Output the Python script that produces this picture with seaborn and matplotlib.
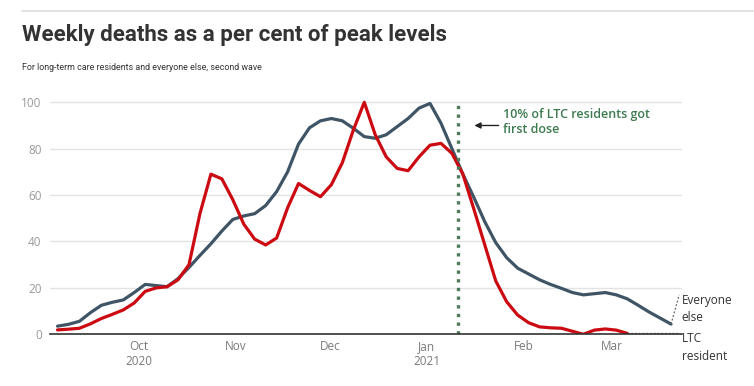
import pandas as pd
import numpy as np
import seaborn as sns
import matplotlib.pyplot as plt
import matplotlib.dates as mdates
from matplotlib.lines import Line2D
from matplotlib import font_manager

# readings taken every half week (3.5 days) from 5 Sep 2020
start = "2020-09-05"

everyone_else = [3.5, 4.3, 5.6, 9.3, 12.5, 13.8, 14.8, 18.0, 21.5, 21.0,
                 20.5, 24.0, 28.8, 34.0, 39.0, 44.5, 49.5, 51.0, 52.0, 55.5,
                 61.5, 70.0, 82.0, 89.0, 92.0, 93.0, 92.0, 88.8, 85.2, 84.5,
                 86.0, 89.5, 93.0, 97.5, 99.5, 91.0, 80.0, 69.0, 59.0, 48.5,
                 39.5, 33.0, 28.5, 26.0, 23.5, 21.5, 19.8, 18.0, 17.0, 17.5,
                 18.0, 17.0, 15.3, 12.5, 9.6, 7.0, 4.4]

ltc_resident = [1.9, 2.2, 2.6, 4.5, 6.8, 8.6, 10.5, 13.5, 18.5, 20.0,
                20.5, 23.5, 30.0, 52.0, 69.0, 67.0, 58.0, 47.5, 41.0, 38.5,
                41.5, 54.5, 65.0, 62.0, 59.3, 64.5, 74.0, 88.0, 100.0, 86.0,
                76.5, 71.5, 70.5, 76.5, 81.5, 82.3, 78.0, 69.0, 54.0, 38.5,
                23.0, 14.0, 8.3, 5.0, 3.2, 2.8, 2.6, 1.3, 0.0, 1.8,
                2.3, 1.8, 0.4]

month_ticks = ["2020-10-01", "2020-11-01", "2020-12-01", "2021-01-01", "2021-02-01", "2021-03-01"]
month_labels = ["Oct\n2020", "Nov", "Dec", "Jan\n2021", "Feb", "Mar"]
y_ticks = [0, 20, 40, 60, 80, 100]
vaccine_date = "2021-01-11"

dates_all = pd.date_range(start, periods=len(everyone_else), freq="84h")
df_all = pd.DataFrame({"date": dates_all, "value": everyone_else})
df_ltc = pd.DataFrame({"date": dates_all[:len(ltc_resident)], "value": ltc_resident})

sns.set_theme(style="white")
names = {f.name for f in font_manager.fontManager.ttflist}
body_font = "Open Sans" if "Open Sans" in names else "DejaVu Sans"
head_font = "Liberation Sans Narrow" if "Liberation Sans Narrow" in names else "Roboto"
plt.rcParams["font.family"] = [body_font, "DejaVu Sans"]

grey_line = "#3f5566"
red_line = "#cc0a12"
green = "#3d7a50"

fig = plt.figure(figsize=(7.54, 3.86), dpi=100)
ax = fig.add_axes([50/754, 1-334.3/386, 632/754, 241.3/386])

sns.lineplot(data=df_all, x="date", y="value", color=grey_line, linewidth=2.3, ax=ax,
             solid_capstyle="round", solid_joinstyle="round")
sns.lineplot(data=df_ltc, x="date", y="value", color=red_line, linewidth=2.3, ax=ax,
             solid_capstyle="round", solid_joinstyle="round")

ax.set_xlim(pd.Timestamp(start) - pd.Timedelta(days=2.4), pd.Timestamp(start) + pd.Timedelta(days=199.5))
ax.set_ylim(0, 104)
ax.set_xlabel("")
ax.set_ylabel("")

ax.set_yticks(y_ticks)
ax.set_yticklabels([str(v) for v in y_ticks])
ax.set_xticks(pd.to_datetime(month_ticks))
ax.set_xticklabels(month_labels)
ax.tick_params(axis="y", length=0, pad=6, labelsize=8.5, labelcolor="#9a9a9a")
ax.tick_params(axis="x", length=0, pad=4, labelsize=8.5, labelcolor="#7a7a7a")

ax.grid(axis="y", color="#e3e3e3", linewidth=1)
ax.set_axisbelow(True)
for s in ["top", "right", "left"]:
    ax.spines[s].set_visible(False)
ax.spines["bottom"].set_color("#333333")
ax.spines["bottom"].set_linewidth(1.2)

# vaccine line + note
vd = pd.Timestamp(vaccine_date)
ax.axvline(vd, ymin=0, ymax=100/104, color="#4f7a5c", linewidth=2.4, linestyle=(0, (1, 1.6)))
ax.annotate("", xy=(vd + pd.Timedelta(days=4.3), 90), xytext=(vd + pd.Timedelta(days=13.8), 90),
            arrowprops=dict(arrowstyle="-|>", color="#222222", lw=1, mutation_scale=9))
ax.text(vd + pd.Timedelta(days=14.2), 91.5, "10% of LTC residents got\nfirst dose",
        color=green, fontsize=9, fontweight="semibold", va="center", ha="left", linespacing=1.2)

# end labels
end_all = dates_all[len(everyone_else) - 1]
end_ltc = dates_all[len(ltc_resident) - 1]
lab_x = end_all + pd.Timedelta(days=3.4)
ax.plot([end_all, end_all + pd.Timedelta(days=2.6)], [everyone_else[-1], 17], color="#666666",
        linewidth=0.9, linestyle=(0, (1.5, 1.5)), clip_on=False)
ax.plot([end_ltc, end_all + pd.Timedelta(days=2.6)], [0.5, 0.5], color="#666666",
        linewidth=0.9, linestyle=(0, (1.5, 1.5)), clip_on=False)
ax.text(lab_x, 11, "Everyone\nelse", fontsize=8.5, color="#333333", va="center", ha="left",
        linespacing=1.45, clip_on=False)
ax.text(lab_x, -5.7, "LTC\nresident", fontsize=8.5, color="#333333", va="center", ha="left",
        linespacing=1.45, clip_on=False)

# heading
fig.add_artist(Line2D([22/754, 1], [1-11/386, 1-11/386], color="#dddddd", linewidth=1.2))
fig.text(22/754, 1-35/386, "Weekly deaths as a per cent of peak levels", fontsize=16,
         fontweight="bold", color="#333333", va="center", ha="left", family=[head_font, "DejaVu Sans"])
fig.text(22/754, 1-67/386, "For long-term care residents and everyone else, second wave", fontsize=6.4,
         color="#333333", va="center", ha="left", family=[head_font, "DejaVu Sans"])

fig.savefig("out.png", dpi=100)
